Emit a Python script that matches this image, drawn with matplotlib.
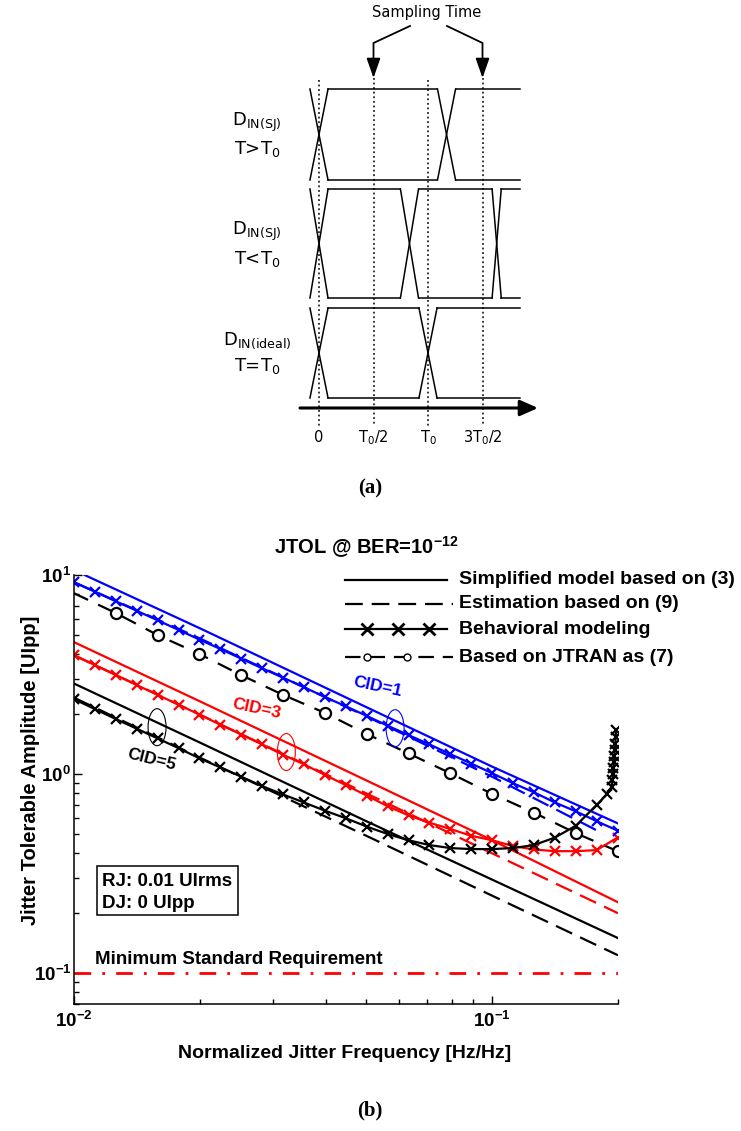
import numpy as np
import matplotlib
matplotlib.use('Agg')
import matplotlib.pyplot as plt
from matplotlib.patches import Ellipse, Rectangle
from matplotlib.ticker import FuncFormatter, LogLocator, NullFormatter

plt.rcParams['mathtext.fontset'] = 'custom'
plt.rcParams['mathtext.rm'] = 'DejaVu Sans'
plt.rcParams['mathtext.it'] = 'DejaVu Sans:italic'
plt.rcParams['mathtext.bf'] = 'Liberation Sans:bold'

# ---------------- (a) eye diagram data, times in units of T0
row_labels = [r'D$_{\mathrm{IN(SJ)}}$', r'D$_{\mathrm{IN(SJ)}}$', r'D$_{\mathrm{IN(ideal)}}$']
row_conds = [r'T>T$_0$', r'T<T$_0$', r'T=T$_0$']
row_cross = [[0, 1.17], [0, 0.83, 1.63], [0, 1.0]]
row_halfw = [[0.083, 0.083], [0.083, 0.083, 0.042], [0.083, 0.083]]
t_ticks = [0, 0.5, 1.0, 1.5]
t_tick_labels = ['0', r'T$_0$/2', r'T$_0$', r'3T$_0$/2']
sampling_times = [0.5, 1.5]

# ---------------- (b) JTOL data
grid_x = [0.01, 0.01122, 0.01259, 0.01413, 0.01585, 0.01778, 0.01995, 0.02239,
          0.02512, 0.02818, 0.03162, 0.03548, 0.03981, 0.04467, 0.05012, 0.05623,
          0.0631, 0.0708, 0.0794, 0.0891, 0.1, 0.1122, 0.1259, 0.1413, 0.1585,
          0.1778, 0.1995]

beh_cid1 = [9.2, 8.24, 7.38, 6.61, 5.92, 5.30, 4.74, 4.25, 3.80, 3.40, 3.05, 2.73,
            2.44, 2.19, 1.96, 1.75, 1.57, 1.41, 1.26, 1.13, 1.01, 0.90, 0.81, 0.72,
            0.65, 0.58, 0.52]
beh_cid3 = [3.96, 3.53, 3.15, 2.80, 2.50, 2.23, 1.99, 1.77, 1.58, 1.41, 1.25, 1.12,
            0.99, 0.88, 0.78, 0.69, 0.62, 0.57, 0.53, 0.49, 0.465, 0.435, 0.418, 0.41,
            0.41, 0.415, 0.48]
beh_cid5_x = grid_x[:26] + [0.188, 0.193, 0.194, 0.1945, 0.195, 0.1955, 0.196,
                            0.1965, 0.197, 0.1975, 0.198]
beh_cid5 = [2.38, 2.12, 1.89, 1.69, 1.51, 1.35, 1.20, 1.08, 0.97, 0.87, 0.79, 0.72,
            0.655, 0.60, 0.545, 0.50, 0.465, 0.44, 0.425, 0.42, 0.42, 0.425, 0.44,
            0.48, 0.55, 0.70, 0.79, 0.86, 0.93, 1.0, 1.07, 1.15, 1.23, 1.32, 1.42,
            1.53, 1.66]

line_x = [0.01, 0.02, 0.05, 0.1, 0.2]
simp_cid1_x = [0.0106, 0.02, 0.05, 0.1, 0.2]
simp_cid1 = [10.0, 5.4, 2.17, 1.09, 0.565]
simp_cid3 = [4.6, 2.32, 0.93, 0.465, 0.227]
simp_cid5 = [2.85, 1.44, 0.58, 0.295, 0.15]
est_cid1_x = [0.01, 0.02, 0.05, 0.1, 0.185]
est_cid1 = [9.2, 4.8, 1.95, 0.97, 0.5]
est_cid3 = [3.95, 1.99, 0.8, 0.4, 0.2]
est_cid5 = [2.42, 1.21, 0.49, 0.245, 0.123]

jtran_x = [0.01, 0.01259, 0.01585, 0.01995, 0.02512, 0.03162, 0.03981, 0.05012,
           0.0631, 0.0794, 0.1, 0.1259, 0.1585, 0.1995]
jtran_y = [8.1, 6.44, 4.99, 4.01, 3.14, 2.50, 2.03, 1.59, 1.27, 1.01, 0.795, 0.64,
           0.505, 0.41]

min_req_x = [0.01, 0.2]
min_req_y = [0.1, 0.1]

W, H = 741, 1131
fig = plt.figure(figsize=(W / 100, H / 100), dpi=100)

# overlay axes in pixel units for the schematic and annotations
ov = fig.add_axes([0, 0, 1, 1], zorder=5)
ov.set_xlim(0, W)
ov.set_ylim(H, 0)
ov.axis('off')

X0, T0_PX = 319, 109
T_END = 1.84


def tx(t):
    return X0 + T0_PX * t


levels = [(89, 180), (189, 298), (308, 398)]
for (hi, lo), cross, hw in zip(levels, row_cross, row_halfw):
    for c, h in zip(cross, hw):
        ov.plot([tx(c - h), tx(c + h)], [hi, lo], 'k', lw=1.1)
        ov.plot([tx(c - h), tx(c + h)], [lo, hi], 'k', lw=1.1)
    starts = [c + h for c, h in zip(cross, hw)]
    ends = [c - h for c, h in zip(cross[1:], hw[1:])] + [T_END]
    for s, e in zip(starts, ends):
        ov.plot([tx(s), tx(e)], [hi, hi], 'k', lw=1.1)
        ov.plot([tx(s), tx(e)], [lo, lo], 'k', lw=1.1)

label_y = [(122, 149), (231, 259), (341, 366)]
for (y1, y2), lab, cond in zip(label_y, row_labels, row_conds):
    ov.text(257, y1, lab, ha='center', va='center', fontsize=13)
    ov.text(257, y2, cond, ha='center', va='center', fontsize=13)

for t, lab in zip(t_ticks, t_tick_labels):
    top = 78 if t in sampling_times else 80
    ov.plot([tx(t), tx(t)], [top, 426], color='k', ls=(0, (1.2, 1.8)), lw=1.1)
    ov.text(tx(t), 438, lab, ha='center', va='center', fontsize=10.5)

ov.annotate('', xy=(538, 408), xytext=(300, 408),
            arrowprops=dict(arrowstyle='-|>,head_length=0.9,head_width=0.4',
                            lw=2.2, color='k', shrinkA=0, shrinkB=0, mutation_scale=12))

ov.text(427, 13, 'Sampling Time', ha='center', va='center', fontsize=10.5)
for st, sx in zip(sampling_times, [410, 447]):
    ov.plot([sx, tx(st), tx(st)], [26, 43, 64], 'k', lw=1.3)
    ov.annotate('', xy=(tx(st), 78), xytext=(tx(st), 60),
                arrowprops=dict(arrowstyle='-|>,head_length=1.0,head_width=0.35',
                                lw=1.3, color='k', shrinkA=0, shrinkB=0, mutation_scale=12))

ov.text(370, 488, '(a)', ha='center', va='center', fontsize=15,
        family='Liberation Serif', fontweight='bold')
ov.text(370, 1110, '(b)', ha='center', va='center', fontsize=15,
        family='Liberation Serif', fontweight='bold')

# ---------------- (b) chart
ax = fig.add_axes([74 / W, 1 - 1004 / H, 544 / W, 429 / H])
ax.set_xscale('log')
ax.set_yscale('log')
ax.set_xlim(0.01, 0.2)
ax.set_ylim(0.07, 10)

BLUE, RED = '#0000ff', '#ff0000'
xkw = dict(marker='x', ms=7, mew=1.6, lw=1.6)

ax.plot(min_req_x, min_req_y, color=RED, lw=2, dashes=(6, 4, 1, 4))

ax.plot(line_x, est_cid5, color='k', lw=1.6, dashes=(8, 4))
ax.plot(line_x, est_cid3, color=RED, lw=1.6, dashes=(8, 4))
ax.plot(est_cid1_x, est_cid1, color=BLUE, lw=1.6, dashes=(8, 4))

ax.plot(line_x, simp_cid5, color='k', lw=1.6)
ax.plot(line_x, simp_cid3, color=RED, lw=1.6)
ax.plot(simp_cid1_x, simp_cid1, color=BLUE, lw=1.6)

ax.plot(jtran_x, jtran_y, color='k', lw=1.6, dashes=(7, 5))
ax.plot(jtran_x[1:], jtran_y[1:], ls='none', marker='o', ms=8, mfc='white',
        mec='k', mew=1.6)

ax.plot(grid_x, beh_cid3, color=RED, **xkw)
ax.plot(grid_x, beh_cid1, color=BLUE, **xkw)
ax.plot(beh_cid5_x, beh_cid5, color='k', **xkw)

for s in ['top', 'right']:
    ax.spines[s].set_visible(False)
for s in ['left', 'bottom']:
    ax.spines[s].set_linewidth(1.1)

fmt = FuncFormatter(lambda v, p: r'$\mathbf{10^{%d}}$' % int(round(np.log10(v))))
for axis in (ax.xaxis, ax.yaxis):
    axis.set_major_locator(LogLocator(base=10))
    axis.set_minor_locator(LogLocator(base=10, subs=range(2, 10)))
    axis.set_major_formatter(fmt)
    axis.set_minor_formatter(NullFormatter())
ax.tick_params(which='both', direction='in', labelsize=13.5, width=1)
ax.tick_params(which='major', length=6)
ax.tick_params(which='minor', length=3.5)
ax.tick_params(axis='y', pad=2)
ax.tick_params(axis='x', pad=5)

ax.set_xlabel('Normalized Jitter Frequency [Hz/Hz]', fontsize=14, fontweight='bold',
              family='Liberation Sans')
ax.set_ylabel('Jitter Tolerable Amplitude [UIpp]', fontsize=14.5, fontweight='bold',
              family='Liberation Sans')
ax.xaxis.set_label_coords(0.498, -0.095)
ax.yaxis.set_label_coords(-0.062, 0.545)

tkw = dict(fontsize=13.5, fontweight='bold', family='Liberation Sans')
ckw = dict(fontsize=12.5, fontweight='bold', family='Liberation Sans',
           ha='center', va='center')
ax.text(0.0531, 2.75, 'CID=1', color=BLUE, rotation=-12, **ckw)
ax.text(0.0273, 2.12, 'CID=3', color=RED, rotation=-12, **ckw)
ax.text(0.0153, 1.18, 'CID=5', color='k', rotation=-14, **ckw)
ax.text(0.01125, 0.106, 'Minimum Standard Requirement', ha='left', va='bottom', **tkw)

# ellipses marking each CID group
fig.canvas.draw()
for (ex, ey), col in zip([(0.0586, 1.70), (0.0322, 1.29), (0.0158, 1.72)], [BLUE, RED, 'k']):
    cx, cy = ax.transData.transform((ex, ey))
    ov.add_patch(Ellipse((cx, H - cy), 18, 37, fill=False, ec=col, lw=0.8))

# RJ / DJ box
ov.add_patch(Rectangle((97, 866), 141, 49, fill=False, ec='k', lw=1.1))
ov.text(102, 882, 'RJ: 0.01 UIrms', ha='left', va='center', **tkw)
ov.text(102, 903, 'DJ: 0 UIpp', ha='left', va='center', **tkw)

# title
ov.text(366, 547, r'JTOL @ BER=10$^{\mathbf{-12}}$', ha='center', va='center',
        fontsize=14.5, fontweight='bold', family='Liberation Sans')

# legend, drawn by hand
leg_y = [580, 604, 629, 657]
leg_labels = ['Simplified model based on (3)', 'Estimation based on (9)',
              'Behavioral modeling', 'Based on JTRAN as (7)']
ov.plot([345, 447], [leg_y[0]] * 2, 'k', lw=1.6)
ov.plot([345, 453], [leg_y[1]] * 2, 'k', lw=1.6, dashes=(8, 4))
ov.plot([345, 447], [leg_y[2]] * 2, 'k', lw=1.6)
ov.plot([367, 398, 429], [leg_y[2]] * 3, 'kx', ms=8, mew=2)
ov.plot([345, 453], [leg_y[3]] * 2, 'k', lw=1.6, dashes=(7, 4))
ov.plot([367, 407], [leg_y[3]] * 2, 'o', ms=5, mfc='white', mec='k', mew=1)
for y, lab in zip(leg_y, leg_labels):
    ov.text(459, y, lab, ha='left', va='center', fontsize=14, fontweight='bold',
            family='Liberation Sans')

fig.savefig('out.png', dpi=100)
